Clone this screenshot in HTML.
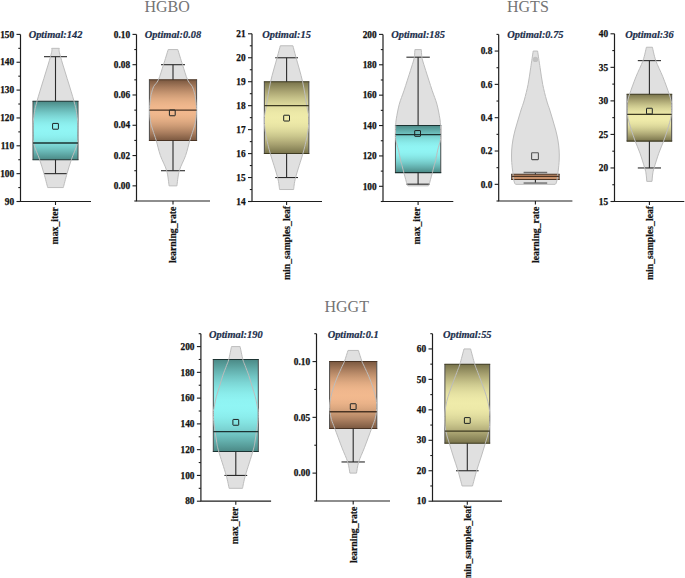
<!DOCTYPE html><html><head><meta charset="utf-8"><style>html,body{margin:0;padding:0;background:#fff;}svg{display:block}.t{font-family:"Liberation Serif",serif;}</style></head><body>
<svg width="685" height="578" viewBox="0 0 685 578">
<defs>
<linearGradient id="g_teal" x1="0" y1="0" x2="0" y2="1"><stop offset="0.0000" stop-color="#4b8986"/><stop offset="0.0625" stop-color="#589e9b"/><stop offset="0.1250" stop-color="#65b2b0"/><stop offset="0.1875" stop-color="#71c5c3"/><stop offset="0.2500" stop-color="#7cd5d4"/><stop offset="0.3125" stop-color="#84e3e1"/><stop offset="0.3750" stop-color="#8bedec"/><stop offset="0.4375" stop-color="#8ff3f2"/><stop offset="0.5000" stop-color="#90f5f4"/><stop offset="0.5625" stop-color="#8ff3f2"/><stop offset="0.6250" stop-color="#8bedec"/><stop offset="0.6875" stop-color="#84e3e1"/><stop offset="0.7500" stop-color="#7cd5d4"/><stop offset="0.8125" stop-color="#71c5c3"/><stop offset="0.8750" stop-color="#65b2b0"/><stop offset="0.9375" stop-color="#589e9b"/><stop offset="1.0000" stop-color="#4b8986"/></linearGradient>
<linearGradient id="g_brown" x1="0" y1="0" x2="0" y2="1"><stop offset="0.0000" stop-color="#7b5840"/><stop offset="0.0625" stop-color="#926b4f"/><stop offset="0.1250" stop-color="#a97d5e"/><stop offset="0.1875" stop-color="#bd8e6b"/><stop offset="0.2500" stop-color="#cf9d77"/><stop offset="0.3125" stop-color="#dea981"/><stop offset="0.3750" stop-color="#e9b288"/><stop offset="0.4375" stop-color="#f0b78d"/><stop offset="0.5000" stop-color="#f2b98e"/><stop offset="0.5625" stop-color="#f0b78d"/><stop offset="0.6250" stop-color="#e9b288"/><stop offset="0.6875" stop-color="#dea981"/><stop offset="0.7500" stop-color="#cf9d77"/><stop offset="0.8125" stop-color="#bd8e6b"/><stop offset="0.8750" stop-color="#a97d5e"/><stop offset="0.9375" stop-color="#926b4f"/><stop offset="1.0000" stop-color="#7b5840"/></linearGradient>
<linearGradient id="g_olive" x1="0" y1="0" x2="0" y2="1"><stop offset="0.0000" stop-color="#78724a"/><stop offset="0.0625" stop-color="#8f8a5d"/><stop offset="0.1250" stop-color="#a6a06f"/><stop offset="0.1875" stop-color="#bab57f"/><stop offset="0.2500" stop-color="#ccc88e"/><stop offset="0.3125" stop-color="#dbd79a"/><stop offset="0.3750" stop-color="#e6e2a3"/><stop offset="0.4375" stop-color="#ede9a8"/><stop offset="0.5000" stop-color="#efebaa"/><stop offset="0.5625" stop-color="#ede9a8"/><stop offset="0.6250" stop-color="#e6e2a3"/><stop offset="0.6875" stop-color="#dbd79a"/><stop offset="0.7500" stop-color="#ccc88e"/><stop offset="0.8125" stop-color="#bab57f"/><stop offset="0.8750" stop-color="#a6a06f"/><stop offset="0.9375" stop-color="#8f8a5d"/><stop offset="1.0000" stop-color="#78724a"/></linearGradient>
</defs>
<rect width="685" height="578" fill="#fff"/>
<g class="t" fill="#747474" font-size="16.0">
<text x="144.5" y="11.9">HGBO</text>
<text x="507.0" y="11.9">HGTS</text>
<text x="324.5" y="311.5">HGGT</text>
</g>
<g><path d="M47.7,187.57 C47.08,185.25 45.33,178.29 44,173.65 C42.67,169.01 41.43,164.83 39.7,159.72 C37.97,154.62 34.72,148.12 33.6,143.02 C32.48,137.91 32.98,133.27 33,129.09 C33.02,124.91 33.03,122.59 33.7,117.95 C34.37,113.31 34.2,111.45 37,101.24 C39.8,91.03 48.05,65.5 50.5,56.68 C52.95,47.86 51.5,49.72 51.7,48.33 L59.3,48.33 C59.5,49.72 58.05,47.86 60.5,56.68 C62.95,65.5 71.2,91.03 74,101.24 C76.8,111.45 76.63,113.31 77.3,117.95 C77.97,122.59 77.98,124.91 78,129.09 C78.02,133.27 78.52,137.91 77.4,143.02 C76.28,148.12 73.03,154.62 71.3,159.72 C69.57,164.83 68.33,169.01 67,173.65 C65.67,178.29 63.92,185.25 63.3,187.57 Z" fill="#e0e0e0" stroke="none"/><rect x="33" y="101.24" width="45" height="58.48" fill="url(#g_teal)"/><path d="M33,101.24 L33,159.72 M78,101.24 L78,159.72" stroke="#4a4a4a" stroke-width="1" fill="none"/><path d="M32.5,101.24 L78.5,101.24 M32.5,159.72 L78.5,159.72" stroke="#1c3332" stroke-width="1.05" fill="none"/><line x1="55.5" y1="56.68" x2="55.5" y2="101.24" stroke="#2a2a2a" stroke-width="1.1"/><line x1="55.5" y1="159.72" x2="55.5" y2="173.65" stroke="#2a2a2a" stroke-width="1.1"/><line x1="44" y1="173.65" x2="67" y2="173.65" stroke="#2a2a2a" stroke-width="1.1"/><line x1="44" y1="56.68" x2="67" y2="56.68" stroke="#2a2a2a" stroke-width="1.1"/><path d="M47.7,187.57 C47.08,185.25 45.33,178.29 44,173.65 C42.67,169.01 41.43,164.83 39.7,159.72 C37.97,154.62 34.72,148.12 33.6,143.02 C32.48,137.91 32.98,133.27 33,129.09 C33.02,124.91 33.03,122.59 33.7,117.95 C34.37,113.31 34.2,111.45 37,101.24 C39.8,91.03 48.05,65.5 50.5,56.68 C52.95,47.86 51.5,49.72 51.7,48.33 L59.3,48.33 C59.5,49.72 58.05,47.86 60.5,56.68 C62.95,65.5 71.2,91.03 74,101.24 C76.8,111.45 76.63,113.31 77.3,117.95 C77.97,122.59 77.98,124.91 78,129.09 C78.02,133.27 78.52,137.91 77.4,143.02 C76.28,148.12 73.03,154.62 71.3,159.72 C69.57,164.83 68.33,169.01 67,173.65 C65.67,178.29 63.92,185.25 63.3,187.57 Z" fill="none" stroke="#bdbdbd" stroke-width="1"/><line x1="33" y1="143.02" x2="78" y2="143.02" stroke="#1c3332" stroke-width="1.3"/><rect x="52.6" y="123.41" width="5.8" height="5.8" rx="0.4" fill="none" stroke="#1e2424" stroke-width="1"/><path d="M20.5,34.4 L20.5,201.5 L91,201.5" fill="none" stroke="#1e1e1e" stroke-width="1.2"/><line x1="55.5" y1="201.5" x2="55.5" y2="205" stroke="#1e1e1e" stroke-width="1.1"/><line x1="16.5" y1="201.5" x2="20.5" y2="201.5" stroke="#1e1e1e" stroke-width="1.1"/><text class="t" x="14.1" y="204.7" font-size="9.3" font-weight="bold" text-anchor="end" fill="#111" stroke="#111" stroke-width="0.25">90</text><line x1="16.5" y1="173.65" x2="20.5" y2="173.65" stroke="#1e1e1e" stroke-width="1.1"/><text class="t" x="14.1" y="176.85" font-size="9.3" font-weight="bold" text-anchor="end" fill="#111" stroke="#111" stroke-width="0.25">100</text><line x1="16.5" y1="145.8" x2="20.5" y2="145.8" stroke="#1e1e1e" stroke-width="1.1"/><text class="t" x="14.1" y="149" font-size="9.3" font-weight="bold" text-anchor="end" fill="#111" stroke="#111" stroke-width="0.25">110</text><line x1="16.5" y1="117.95" x2="20.5" y2="117.95" stroke="#1e1e1e" stroke-width="1.1"/><text class="t" x="14.1" y="121.15" font-size="9.3" font-weight="bold" text-anchor="end" fill="#111" stroke="#111" stroke-width="0.25">120</text><line x1="16.5" y1="90.1" x2="20.5" y2="90.1" stroke="#1e1e1e" stroke-width="1.1"/><text class="t" x="14.1" y="93.3" font-size="9.3" font-weight="bold" text-anchor="end" fill="#111" stroke="#111" stroke-width="0.25">130</text><line x1="16.5" y1="62.25" x2="20.5" y2="62.25" stroke="#1e1e1e" stroke-width="1.1"/><text class="t" x="14.1" y="65.45" font-size="9.3" font-weight="bold" text-anchor="end" fill="#111" stroke="#111" stroke-width="0.25">140</text><line x1="16.5" y1="34.4" x2="20.5" y2="34.4" stroke="#1e1e1e" stroke-width="1.1"/><text class="t" x="14.1" y="37.6" font-size="9.3" font-weight="bold" text-anchor="end" fill="#111" stroke="#111" stroke-width="0.25">150</text><line x1="18.3" y1="187.57" x2="20.5" y2="187.57" stroke="#1e1e1e" stroke-width="1.1"/><line x1="18.3" y1="159.72" x2="20.5" y2="159.72" stroke="#1e1e1e" stroke-width="1.1"/><line x1="18.3" y1="131.88" x2="20.5" y2="131.88" stroke="#1e1e1e" stroke-width="1.1"/><line x1="18.3" y1="104.02" x2="20.5" y2="104.02" stroke="#1e1e1e" stroke-width="1.1"/><line x1="18.3" y1="76.18" x2="20.5" y2="76.18" stroke="#1e1e1e" stroke-width="1.1"/><line x1="18.3" y1="48.33" x2="20.5" y2="48.33" stroke="#1e1e1e" stroke-width="1.1"/><text class="t" transform="translate(55.5,38.25) scale(1,1.08)" font-size="10.4" font-weight="bold" font-style="italic" text-anchor="middle" fill="#1b2e4b" stroke="#1b2e4b" stroke-width="0.2">Optimal:142</text><text class="t" transform="translate(57.7,207.1) rotate(-90)" font-size="9.75" font-weight="bold" text-anchor="end" fill="#111" stroke="#111" stroke-width="0.2">max_iter</text></g>
<g><path d="M169.1,185.85 C168.7,183.33 168.15,175.76 166.7,170.71 C165.25,165.66 162.15,160.61 160.4,155.56 C158.65,150.52 157.47,144.66 156.2,140.42 C154.93,136.18 153.77,133.3 152.8,130.12 C151.83,126.94 150.95,124.67 150.4,121.33 C149.85,118 149.5,113.84 149.5,110.13 C149.5,106.42 150.05,101.95 150.4,99.07 C150.75,96.19 151.05,94.96 151.6,92.86 C152.15,90.77 152.57,88.67 153.7,86.5 C154.83,84.33 156.77,83.47 158.4,79.84 C160.03,76.2 161.87,69.74 163.5,64.69 C165.13,59.64 167.42,52.07 168.2,49.55 L177.8,49.55 C178.58,52.07 180.87,59.64 182.5,64.69 C184.13,69.74 185.97,76.2 187.6,79.84 C189.23,83.47 191.17,84.33 192.3,86.5 C193.43,88.67 193.85,90.77 194.4,92.86 C194.95,94.96 195.25,96.19 195.6,99.07 C195.95,101.95 196.5,106.42 196.5,110.13 C196.5,113.84 196.15,118 195.6,121.33 C195.05,124.67 194.17,126.94 193.2,130.12 C192.23,133.3 191.07,136.18 189.8,140.42 C188.53,144.66 187.35,150.52 185.6,155.56 C183.85,160.61 180.75,165.66 179.3,170.71 C177.85,175.76 177.3,183.33 176.9,185.85 Z" fill="#e0e0e0" stroke="none"/><rect x="149.4" y="79.84" width="47.2" height="60.58" fill="url(#g_brown)"/><path d="M149.4,79.84 L149.4,140.42 M196.6,79.84 L196.6,140.42" stroke="#4a4a4a" stroke-width="1" fill="none"/><path d="M148.9,79.84 L197.1,79.84 M148.9,140.42 L197.1,140.42" stroke="#4a3424" stroke-width="1.05" fill="none"/><line x1="173" y1="64.69" x2="173" y2="79.84" stroke="#2a2a2a" stroke-width="1.1"/><line x1="173" y1="140.42" x2="173" y2="170.71" stroke="#2a2a2a" stroke-width="1.1"/><line x1="161" y1="170.71" x2="185" y2="170.71" stroke="#2a2a2a" stroke-width="1.1"/><line x1="161" y1="64.69" x2="185" y2="64.69" stroke="#2a2a2a" stroke-width="1.1"/><path d="M169.1,185.85 C168.7,183.33 168.15,175.76 166.7,170.71 C165.25,165.66 162.15,160.61 160.4,155.56 C158.65,150.52 157.47,144.66 156.2,140.42 C154.93,136.18 153.77,133.3 152.8,130.12 C151.83,126.94 150.95,124.67 150.4,121.33 C149.85,118 149.5,113.84 149.5,110.13 C149.5,106.42 150.05,101.95 150.4,99.07 C150.75,96.19 151.05,94.96 151.6,92.86 C152.15,90.77 152.57,88.67 153.7,86.5 C154.83,84.33 156.77,83.47 158.4,79.84 C160.03,76.2 161.87,69.74 163.5,64.69 C165.13,59.64 167.42,52.07 168.2,49.55 L177.8,49.55 C178.58,52.07 180.87,59.64 182.5,64.69 C184.13,69.74 185.97,76.2 187.6,79.84 C189.23,83.47 191.17,84.33 192.3,86.5 C193.43,88.67 193.85,90.77 194.4,92.86 C194.95,94.96 195.25,96.19 195.6,99.07 C195.95,101.95 196.5,106.42 196.5,110.13 C196.5,113.84 196.15,118 195.6,121.33 C195.05,124.67 194.17,126.94 193.2,130.12 C192.23,133.3 191.07,136.18 189.8,140.42 C188.53,144.66 187.35,150.52 185.6,155.56 C183.85,160.61 180.75,165.66 179.3,170.71 C177.85,175.76 177.3,183.33 176.9,185.85 Z" fill="none" stroke="#bdbdbd" stroke-width="1"/><line x1="149.4" y1="110.13" x2="196.6" y2="110.13" stroke="#4a3424" stroke-width="1.3"/><rect x="169.4" y="109.95" width="5.8" height="5.8" rx="0.4" fill="none" stroke="#1e2424" stroke-width="1"/><path d="M136.5,34.4 L136.5,201 L210,201" fill="none" stroke="#1e1e1e" stroke-width="1.2"/><line x1="173" y1="201" x2="173" y2="204.5" stroke="#1e1e1e" stroke-width="1.1"/><line x1="132.5" y1="185.85" x2="136.5" y2="185.85" stroke="#1e1e1e" stroke-width="1.1"/><text class="t" x="130.1" y="189.05" font-size="9.3" font-weight="bold" text-anchor="end" fill="#111" stroke="#111" stroke-width="0.25">0.00</text><line x1="132.5" y1="155.56" x2="136.5" y2="155.56" stroke="#1e1e1e" stroke-width="1.1"/><text class="t" x="130.1" y="158.76" font-size="9.3" font-weight="bold" text-anchor="end" fill="#111" stroke="#111" stroke-width="0.25">0.02</text><line x1="132.5" y1="125.27" x2="136.5" y2="125.27" stroke="#1e1e1e" stroke-width="1.1"/><text class="t" x="130.1" y="128.47" font-size="9.3" font-weight="bold" text-anchor="end" fill="#111" stroke="#111" stroke-width="0.25">0.04</text><line x1="132.5" y1="94.98" x2="136.5" y2="94.98" stroke="#1e1e1e" stroke-width="1.1"/><text class="t" x="130.1" y="98.18" font-size="9.3" font-weight="bold" text-anchor="end" fill="#111" stroke="#111" stroke-width="0.25">0.06</text><line x1="132.5" y1="64.69" x2="136.5" y2="64.69" stroke="#1e1e1e" stroke-width="1.1"/><text class="t" x="130.1" y="67.89" font-size="9.3" font-weight="bold" text-anchor="end" fill="#111" stroke="#111" stroke-width="0.25">0.08</text><line x1="132.5" y1="34.4" x2="136.5" y2="34.4" stroke="#1e1e1e" stroke-width="1.1"/><text class="t" x="130.1" y="37.6" font-size="9.3" font-weight="bold" text-anchor="end" fill="#111" stroke="#111" stroke-width="0.25">0.10</text><line x1="134.3" y1="201" x2="136.5" y2="201" stroke="#1e1e1e" stroke-width="1.1"/><line x1="134.3" y1="170.71" x2="136.5" y2="170.71" stroke="#1e1e1e" stroke-width="1.1"/><line x1="134.3" y1="140.42" x2="136.5" y2="140.42" stroke="#1e1e1e" stroke-width="1.1"/><line x1="134.3" y1="110.13" x2="136.5" y2="110.13" stroke="#1e1e1e" stroke-width="1.1"/><line x1="134.3" y1="79.84" x2="136.5" y2="79.84" stroke="#1e1e1e" stroke-width="1.1"/><line x1="134.3" y1="49.55" x2="136.5" y2="49.55" stroke="#1e1e1e" stroke-width="1.1"/><text class="t" transform="translate(173,38.25) scale(1,1.08)" font-size="10.4" font-weight="bold" font-style="italic" text-anchor="middle" fill="#1b2e4b" stroke="#1b2e4b" stroke-width="0.2">Optimal:0.08</text><text class="t" transform="translate(176.4,206.6) rotate(-90)" font-size="9.75" font-weight="bold" text-anchor="end" fill="#111" stroke="#111" stroke-width="0.2">learning_rate</text></g>
<g><path d="M279.6,189.52 C279.27,187.53 279.15,183.53 277.6,177.54 C276.05,171.55 272.02,159.57 270.3,153.59 C268.58,147.6 268.18,145.6 267.3,141.61 C266.42,137.61 265.49,133.62 265,129.63 C264.51,125.64 264.12,121.64 264.35,117.65 C264.58,113.66 265.36,111.66 266.4,105.67 C267.44,99.68 268.82,89.7 270.6,81.71 C272.38,73.73 275.48,63.75 277.1,57.76 C278.72,51.77 279.77,47.78 280.3,45.78 L292.9,45.78 C293.43,47.78 294.48,51.77 296.1,57.76 C297.72,63.75 300.82,73.73 302.6,81.71 C304.38,89.7 305.76,99.68 306.8,105.67 C307.84,111.66 308.62,113.66 308.85,117.65 C309.08,121.64 308.69,125.64 308.2,129.63 C307.71,133.62 306.78,137.61 305.9,141.61 C305.02,145.6 304.62,147.6 302.9,153.59 C301.18,159.57 297.15,171.55 295.6,177.54 C294.05,183.53 293.93,187.53 293.6,189.52 Z" fill="#e0e0e0" stroke="none"/><rect x="264.35" y="81.71" width="44.5" height="71.87" fill="url(#g_olive)"/><path d="M264.35,81.71 L264.35,153.59 M308.85,81.71 L308.85,153.59" stroke="#4a4a4a" stroke-width="1" fill="none"/><path d="M263.85,81.71 L309.35,81.71 M263.85,153.59 L309.35,153.59" stroke="#3e3b22" stroke-width="1.05" fill="none"/><line x1="286.6" y1="57.76" x2="286.6" y2="81.71" stroke="#2a2a2a" stroke-width="1.1"/><line x1="286.6" y1="153.59" x2="286.6" y2="177.54" stroke="#2a2a2a" stroke-width="1.1"/><line x1="275.2" y1="177.54" x2="298" y2="177.54" stroke="#2a2a2a" stroke-width="1.1"/><line x1="275.2" y1="57.76" x2="298" y2="57.76" stroke="#2a2a2a" stroke-width="1.1"/><path d="M279.6,189.52 C279.27,187.53 279.15,183.53 277.6,177.54 C276.05,171.55 272.02,159.57 270.3,153.59 C268.58,147.6 268.18,145.6 267.3,141.61 C266.42,137.61 265.49,133.62 265,129.63 C264.51,125.64 264.12,121.64 264.35,117.65 C264.58,113.66 265.36,111.66 266.4,105.67 C267.44,99.68 268.82,89.7 270.6,81.71 C272.38,73.73 275.48,63.75 277.1,57.76 C278.72,51.77 279.77,47.78 280.3,45.78 L292.9,45.78 C293.43,47.78 294.48,51.77 296.1,57.76 C297.72,63.75 300.82,73.73 302.6,81.71 C304.38,89.7 305.76,99.68 306.8,105.67 C307.84,111.66 308.62,113.66 308.85,117.65 C309.08,121.64 308.69,125.64 308.2,129.63 C307.71,133.62 306.78,137.61 305.9,141.61 C305.02,145.6 304.62,147.6 302.9,153.59 C301.18,159.57 297.15,171.55 295.6,177.54 C294.05,183.53 293.93,187.53 293.6,189.52 Z" fill="none" stroke="#bdbdbd" stroke-width="1"/><line x1="264.35" y1="105.67" x2="308.85" y2="105.67" stroke="#3e3b22" stroke-width="1.3"/><rect x="283.7" y="115.23" width="5.8" height="5.8" rx="0.4" fill="none" stroke="#1e2424" stroke-width="1"/><path d="M252,33.8 L252,201.5 L322,201.5" fill="none" stroke="#1e1e1e" stroke-width="1.2"/><line x1="286.6" y1="201.5" x2="286.6" y2="205" stroke="#1e1e1e" stroke-width="1.1"/><line x1="248" y1="201.5" x2="252" y2="201.5" stroke="#1e1e1e" stroke-width="1.1"/><text class="t" x="245.6" y="204.7" font-size="9.3" font-weight="bold" text-anchor="end" fill="#111" stroke="#111" stroke-width="0.25">14</text><line x1="248" y1="177.54" x2="252" y2="177.54" stroke="#1e1e1e" stroke-width="1.1"/><text class="t" x="245.6" y="180.74" font-size="9.3" font-weight="bold" text-anchor="end" fill="#111" stroke="#111" stroke-width="0.25">15</text><line x1="248" y1="153.59" x2="252" y2="153.59" stroke="#1e1e1e" stroke-width="1.1"/><text class="t" x="245.6" y="156.79" font-size="9.3" font-weight="bold" text-anchor="end" fill="#111" stroke="#111" stroke-width="0.25">16</text><line x1="248" y1="129.63" x2="252" y2="129.63" stroke="#1e1e1e" stroke-width="1.1"/><text class="t" x="245.6" y="132.83" font-size="9.3" font-weight="bold" text-anchor="end" fill="#111" stroke="#111" stroke-width="0.25">17</text><line x1="248" y1="105.67" x2="252" y2="105.67" stroke="#1e1e1e" stroke-width="1.1"/><text class="t" x="245.6" y="108.87" font-size="9.3" font-weight="bold" text-anchor="end" fill="#111" stroke="#111" stroke-width="0.25">18</text><line x1="248" y1="81.71" x2="252" y2="81.71" stroke="#1e1e1e" stroke-width="1.1"/><text class="t" x="245.6" y="84.91" font-size="9.3" font-weight="bold" text-anchor="end" fill="#111" stroke="#111" stroke-width="0.25">19</text><line x1="248" y1="57.76" x2="252" y2="57.76" stroke="#1e1e1e" stroke-width="1.1"/><text class="t" x="245.6" y="60.96" font-size="9.3" font-weight="bold" text-anchor="end" fill="#111" stroke="#111" stroke-width="0.25">20</text><line x1="248" y1="33.8" x2="252" y2="33.8" stroke="#1e1e1e" stroke-width="1.1"/><text class="t" x="245.6" y="37" font-size="9.3" font-weight="bold" text-anchor="end" fill="#111" stroke="#111" stroke-width="0.25">21</text><line x1="249.8" y1="189.52" x2="252" y2="189.52" stroke="#1e1e1e" stroke-width="1.1"/><line x1="249.8" y1="165.56" x2="252" y2="165.56" stroke="#1e1e1e" stroke-width="1.1"/><line x1="249.8" y1="141.61" x2="252" y2="141.61" stroke="#1e1e1e" stroke-width="1.1"/><line x1="249.8" y1="117.65" x2="252" y2="117.65" stroke="#1e1e1e" stroke-width="1.1"/><line x1="249.8" y1="93.69" x2="252" y2="93.69" stroke="#1e1e1e" stroke-width="1.1"/><line x1="249.8" y1="69.74" x2="252" y2="69.74" stroke="#1e1e1e" stroke-width="1.1"/><line x1="249.8" y1="45.78" x2="252" y2="45.78" stroke="#1e1e1e" stroke-width="1.1"/><text class="t" transform="translate(286.6,37.65) scale(1,1.08)" font-size="10.4" font-weight="bold" font-style="italic" text-anchor="middle" fill="#1b2e4b" stroke="#1b2e4b" stroke-width="0.2">Optimal:15</text><text class="t" transform="translate(290.2,205.9) rotate(-90)" font-size="9.75" font-weight="bold" text-anchor="end" fill="#111" stroke="#111" stroke-width="0.2">min_samples_leaf</text></g>
<g><path d="M408.1,185.85 C407.93,185.68 407.5,185.85 407.1,184.79 C406.7,183.73 406.25,181.5 405.7,179.47 C405.15,177.45 404.4,174.92 403.8,172.64 C403.2,170.36 402.65,167.88 402.1,165.8 C401.55,163.73 401.1,162.79 400.5,160.18 C399.9,157.57 399.28,153.5 398.5,150.15 C397.72,146.81 396.3,142.96 395.8,140.13 C395.3,137.29 395.52,135.57 395.5,133.14 C395.48,130.71 395.57,127.93 395.7,125.55 C395.83,123.17 395.7,122.43 396.3,118.86 C396.9,115.29 398,108.89 399.3,104.13 C400.6,99.37 402.23,95.92 404.1,90.3 C405.97,84.68 408.9,75.44 410.5,70.4 C412.1,65.36 413.03,62.53 413.7,60.07 C414.37,57.62 414.3,57.41 414.5,55.67 C414.7,53.92 414.83,50.6 414.9,49.59 L421.3,49.59 C421.37,50.6 421.5,53.92 421.7,55.67 C421.9,57.41 421.83,57.62 422.5,60.07 C423.17,62.53 424.1,65.36 425.7,70.4 C427.3,75.44 430.23,84.68 432.1,90.3 C433.97,95.92 435.6,99.37 436.9,104.13 C438.2,108.89 439.3,115.29 439.9,118.86 C440.5,122.43 440.37,123.17 440.5,125.55 C440.63,127.93 440.72,130.71 440.7,133.14 C440.68,135.57 440.9,137.29 440.4,140.13 C439.9,142.96 438.48,146.81 437.7,150.15 C436.92,153.5 436.3,157.57 435.7,160.18 C435.1,162.79 434.65,163.73 434.1,165.8 C433.55,167.88 433,170.36 432.4,172.64 C431.8,174.92 431.05,177.45 430.5,179.47 C429.95,181.5 429.5,183.73 429.1,184.79 C428.7,185.85 428.27,185.68 428.1,185.85 Z" fill="#e0e0e0" stroke="none"/><rect x="395.45" y="125.55" width="45.3" height="47.09" fill="url(#g_teal)"/><path d="M395.45,125.55 L395.45,172.64 M440.75,125.55 L440.75,172.64" stroke="#4a4a4a" stroke-width="1" fill="none"/><path d="M394.95,125.55 L441.25,125.55 M394.95,172.64 L441.25,172.64" stroke="#1c3332" stroke-width="1.05" fill="none"/><line x1="418.1" y1="57.19" x2="418.1" y2="125.55" stroke="#2a2a2a" stroke-width="1.1"/><line x1="418.1" y1="172.64" x2="418.1" y2="184.18" stroke="#2a2a2a" stroke-width="1.1"/><line x1="406.4" y1="184.18" x2="429.8" y2="184.18" stroke="#2a2a2a" stroke-width="1.1"/><line x1="406.4" y1="57.19" x2="429.8" y2="57.19" stroke="#2a2a2a" stroke-width="1.1"/><path d="M408.1,185.85 C407.93,185.68 407.5,185.85 407.1,184.79 C406.7,183.73 406.25,181.5 405.7,179.47 C405.15,177.45 404.4,174.92 403.8,172.64 C403.2,170.36 402.65,167.88 402.1,165.8 C401.55,163.73 401.1,162.79 400.5,160.18 C399.9,157.57 399.28,153.5 398.5,150.15 C397.72,146.81 396.3,142.96 395.8,140.13 C395.3,137.29 395.52,135.57 395.5,133.14 C395.48,130.71 395.57,127.93 395.7,125.55 C395.83,123.17 395.7,122.43 396.3,118.86 C396.9,115.29 398,108.89 399.3,104.13 C400.6,99.37 402.23,95.92 404.1,90.3 C405.97,84.68 408.9,75.44 410.5,70.4 C412.1,65.36 413.03,62.53 413.7,60.07 C414.37,57.62 414.3,57.41 414.5,55.67 C414.7,53.92 414.83,50.6 414.9,49.59 L421.3,49.59 C421.37,50.6 421.5,53.92 421.7,55.67 C421.9,57.41 421.83,57.62 422.5,60.07 C423.17,62.53 424.1,65.36 425.7,70.4 C427.3,75.44 430.23,84.68 432.1,90.3 C433.97,95.92 435.6,99.37 436.9,104.13 C438.2,108.89 439.3,115.29 439.9,118.86 C440.5,122.43 440.37,123.17 440.5,125.55 C440.63,127.93 440.72,130.71 440.7,133.14 C440.68,135.57 440.9,137.29 440.4,140.13 C439.9,142.96 438.48,146.81 437.7,150.15 C436.92,153.5 436.3,157.57 435.7,160.18 C435.1,162.79 434.65,163.73 434.1,165.8 C433.55,167.88 433,170.36 432.4,172.64 C431.8,174.92 431.05,177.45 430.5,179.47 C429.95,181.5 429.5,183.73 429.1,184.79 C428.7,185.85 428.27,185.68 428.1,185.85 Z" fill="none" stroke="#bdbdbd" stroke-width="1"/><line x1="395.45" y1="134.66" x2="440.75" y2="134.66" stroke="#1c3332" stroke-width="1.3"/><rect x="414.7" y="130.54" width="5.8" height="5.8" rx="0.4" fill="none" stroke="#1e2424" stroke-width="1"/><path d="M383,34.4 L383,201.5 L453.3,201.5" fill="none" stroke="#1e1e1e" stroke-width="1.2"/><line x1="418.1" y1="201.5" x2="418.1" y2="205" stroke="#1e1e1e" stroke-width="1.1"/><line x1="379" y1="186.31" x2="383" y2="186.31" stroke="#1e1e1e" stroke-width="1.1"/><text class="t" x="376.6" y="189.51" font-size="9.3" font-weight="bold" text-anchor="end" fill="#111" stroke="#111" stroke-width="0.25">100</text><line x1="379" y1="155.93" x2="383" y2="155.93" stroke="#1e1e1e" stroke-width="1.1"/><text class="t" x="376.6" y="159.13" font-size="9.3" font-weight="bold" text-anchor="end" fill="#111" stroke="#111" stroke-width="0.25">120</text><line x1="379" y1="125.55" x2="383" y2="125.55" stroke="#1e1e1e" stroke-width="1.1"/><text class="t" x="376.6" y="128.75" font-size="9.3" font-weight="bold" text-anchor="end" fill="#111" stroke="#111" stroke-width="0.25">140</text><line x1="379" y1="95.16" x2="383" y2="95.16" stroke="#1e1e1e" stroke-width="1.1"/><text class="t" x="376.6" y="98.36" font-size="9.3" font-weight="bold" text-anchor="end" fill="#111" stroke="#111" stroke-width="0.25">160</text><line x1="379" y1="64.78" x2="383" y2="64.78" stroke="#1e1e1e" stroke-width="1.1"/><text class="t" x="376.6" y="67.98" font-size="9.3" font-weight="bold" text-anchor="end" fill="#111" stroke="#111" stroke-width="0.25">180</text><line x1="379" y1="34.4" x2="383" y2="34.4" stroke="#1e1e1e" stroke-width="1.1"/><text class="t" x="376.6" y="37.6" font-size="9.3" font-weight="bold" text-anchor="end" fill="#111" stroke="#111" stroke-width="0.25">200</text><line x1="380.8" y1="201.5" x2="383" y2="201.5" stroke="#1e1e1e" stroke-width="1.1"/><line x1="380.8" y1="171.12" x2="383" y2="171.12" stroke="#1e1e1e" stroke-width="1.1"/><line x1="380.8" y1="140.74" x2="383" y2="140.74" stroke="#1e1e1e" stroke-width="1.1"/><line x1="380.8" y1="110.35" x2="383" y2="110.35" stroke="#1e1e1e" stroke-width="1.1"/><line x1="380.8" y1="79.97" x2="383" y2="79.97" stroke="#1e1e1e" stroke-width="1.1"/><line x1="380.8" y1="49.59" x2="383" y2="49.59" stroke="#1e1e1e" stroke-width="1.1"/><text class="t" transform="translate(418.1,38.25) scale(1,1.08)" font-size="10.4" font-weight="bold" font-style="italic" text-anchor="middle" fill="#1b2e4b" stroke="#1b2e4b" stroke-width="0.2">Optimal:185</text><text class="t" transform="translate(420.3,207.1) rotate(-90)" font-size="9.75" font-weight="bold" text-anchor="end" fill="#111" stroke="#111" stroke-width="0.2">max_iter</text></g>
<g><path d="M515.8,184.34 C515.63,184.2 515.13,184.23 514.8,183.51 C514.47,182.79 514.1,181.59 513.8,180.01 C513.5,178.43 513.22,175.68 513,174.01 C512.78,172.34 512.73,172.34 512.5,170.01 C512.27,167.68 511.73,163.35 511.6,160.02 C511.47,156.68 511.48,153.35 511.7,150.02 C511.92,146.69 512.33,143.36 512.9,140.02 C513.47,136.69 514.25,133.36 515.1,130.03 C515.95,126.7 517.02,123.36 518,120.03 C518.98,116.7 519.95,113.37 521,110.04 C522.05,106.7 523.12,104.32 524.3,100.04 C525.48,95.76 527.03,89.77 528.1,84.38 C529.17,78.99 529.85,73.27 530.7,67.72 C531.55,62.17 532.78,53.84 533.2,51.06 L537.6,51.06 C538.02,53.84 539.25,62.17 540.1,67.72 C540.95,73.27 541.63,78.99 542.7,84.38 C543.77,89.77 545.32,95.76 546.5,100.04 C547.68,104.32 548.75,106.7 549.8,110.04 C550.85,113.37 551.82,116.7 552.8,120.03 C553.78,123.36 554.85,126.7 555.7,130.03 C556.55,133.36 557.33,136.69 557.9,140.02 C558.47,143.36 558.88,146.69 559.1,150.02 C559.32,153.35 559.33,156.68 559.2,160.02 C559.07,163.35 558.53,167.68 558.3,170.01 C558.07,172.34 558.02,172.34 557.8,174.01 C557.58,175.68 557.3,178.43 557,180.01 C556.7,181.59 556.33,182.79 556,183.51 C555.67,184.23 555.17,184.2 555,184.34 Z" fill="#e0e0e0" stroke="none"/><rect x="511.6" y="174.18" width="47.6" height="5.41" fill="#c8916b"/><path d="M511.6,174.18 L511.6,179.59 M559.2,174.18 L559.2,179.59" stroke="#4a4a4a" stroke-width="1" fill="none"/><path d="M511.1,174.18 L559.7,174.18 M511.1,179.59 L559.7,179.59" stroke="#4a3424" stroke-width="1.05" fill="none"/><line x1="535.4" y1="172.51" x2="535.4" y2="174.18" stroke="#2a2a2a" stroke-width="1.1"/><line x1="535.4" y1="179.59" x2="535.4" y2="183.09" stroke="#2a2a2a" stroke-width="1.1"/><line x1="523.6" y1="183.09" x2="547.2" y2="183.09" stroke="#6e6e6e" stroke-width="1.5"/><line x1="523.6" y1="172.51" x2="547.2" y2="172.51" stroke="#6e6e6e" stroke-width="1.5"/><path d="M515.8,184.34 C515.63,184.2 515.13,184.23 514.8,183.51 C514.47,182.79 514.1,181.59 513.8,180.01 C513.5,178.43 513.22,175.68 513,174.01 C512.78,172.34 512.73,172.34 512.5,170.01 C512.27,167.68 511.73,163.35 511.6,160.02 C511.47,156.68 511.48,153.35 511.7,150.02 C511.92,146.69 512.33,143.36 512.9,140.02 C513.47,136.69 514.25,133.36 515.1,130.03 C515.95,126.7 517.02,123.36 518,120.03 C518.98,116.7 519.95,113.37 521,110.04 C522.05,106.7 523.12,104.32 524.3,100.04 C525.48,95.76 527.03,89.77 528.1,84.38 C529.17,78.99 529.85,73.27 530.7,67.72 C531.55,62.17 532.78,53.84 533.2,51.06 L537.6,51.06 C538.02,53.84 539.25,62.17 540.1,67.72 C540.95,73.27 541.63,78.99 542.7,84.38 C543.77,89.77 545.32,95.76 546.5,100.04 C547.68,104.32 548.75,106.7 549.8,110.04 C550.85,113.37 551.82,116.7 552.8,120.03 C553.78,123.36 554.85,126.7 555.7,130.03 C556.55,133.36 557.33,136.69 557.9,140.02 C558.47,143.36 558.88,146.69 559.1,150.02 C559.32,153.35 559.33,156.68 559.2,160.02 C559.07,163.35 558.53,167.68 558.3,170.01 C558.07,172.34 558.02,172.34 557.8,174.01 C557.58,175.68 557.3,178.43 557,180.01 C556.7,181.59 556.33,182.79 556,183.51 C555.67,184.23 555.17,184.2 555,184.34 Z" fill="none" stroke="#bdbdbd" stroke-width="1"/><line x1="511.6" y1="176.34" x2="559.2" y2="176.34" stroke="#4a3424" stroke-width="1.3"/><rect x="531.6" y="152.78" width="6.8" height="6.8" rx="0.6" fill="none" stroke="#555" stroke-width="1.1"/><circle cx="535.4" cy="59.4" r="2.7" fill="#c2c2c2"/><path d="M498.7,34.4 L498.7,201 L572.4,201" fill="none" stroke="#1e1e1e" stroke-width="1.2"/><line x1="535.4" y1="201" x2="535.4" y2="204.5" stroke="#1e1e1e" stroke-width="1.1"/><line x1="494.7" y1="184.34" x2="498.7" y2="184.34" stroke="#1e1e1e" stroke-width="1.1"/><text class="t" x="492.3" y="187.54" font-size="9.3" font-weight="bold" text-anchor="end" fill="#111" stroke="#111" stroke-width="0.25">0.0</text><line x1="494.7" y1="151.02" x2="498.7" y2="151.02" stroke="#1e1e1e" stroke-width="1.1"/><text class="t" x="492.3" y="154.22" font-size="9.3" font-weight="bold" text-anchor="end" fill="#111" stroke="#111" stroke-width="0.25">0.2</text><line x1="494.7" y1="117.7" x2="498.7" y2="117.7" stroke="#1e1e1e" stroke-width="1.1"/><text class="t" x="492.3" y="120.9" font-size="9.3" font-weight="bold" text-anchor="end" fill="#111" stroke="#111" stroke-width="0.25">0.4</text><line x1="494.7" y1="84.38" x2="498.7" y2="84.38" stroke="#1e1e1e" stroke-width="1.1"/><text class="t" x="492.3" y="87.58" font-size="9.3" font-weight="bold" text-anchor="end" fill="#111" stroke="#111" stroke-width="0.25">0.6</text><line x1="494.7" y1="51.06" x2="498.7" y2="51.06" stroke="#1e1e1e" stroke-width="1.1"/><text class="t" x="492.3" y="54.26" font-size="9.3" font-weight="bold" text-anchor="end" fill="#111" stroke="#111" stroke-width="0.25">0.8</text><line x1="496.5" y1="201" x2="498.7" y2="201" stroke="#1e1e1e" stroke-width="1.1"/><line x1="496.5" y1="167.68" x2="498.7" y2="167.68" stroke="#1e1e1e" stroke-width="1.1"/><line x1="496.5" y1="134.36" x2="498.7" y2="134.36" stroke="#1e1e1e" stroke-width="1.1"/><line x1="496.5" y1="101.04" x2="498.7" y2="101.04" stroke="#1e1e1e" stroke-width="1.1"/><line x1="496.5" y1="67.72" x2="498.7" y2="67.72" stroke="#1e1e1e" stroke-width="1.1"/><line x1="496.5" y1="34.4" x2="498.7" y2="34.4" stroke="#1e1e1e" stroke-width="1.1"/><text class="t" transform="translate(535.4,38.25) scale(1,1.08)" font-size="10.4" font-weight="bold" font-style="italic" text-anchor="middle" fill="#1b2e4b" stroke="#1b2e4b" stroke-width="0.2">Optimal:0.75</text><text class="t" transform="translate(538.8,206.6) rotate(-90)" font-size="9.75" font-weight="bold" text-anchor="end" fill="#111" stroke="#111" stroke-width="0.2">learning_rate</text></g>
<g><path d="M646.8,181.38 C646.68,180.15 646.45,176.23 646.1,174 C645.75,171.76 645.72,171.43 644.7,167.96 C643.68,164.49 641.58,157.67 640,153.2 C638.42,148.73 636.58,144.82 635.2,141.13 C633.82,137.44 632.72,134.2 631.7,131.07 C630.68,127.94 629.82,125.14 629.1,122.35 C628.38,119.55 627.73,117.2 627.4,114.3 C627.07,111.39 627.1,106.92 627.1,104.9 C627.1,102.89 626.98,104.01 627.4,102.22 C627.82,100.43 628.17,98.42 629.6,94.17 C631.03,89.92 633.77,82.32 636,76.73 C638.23,71.14 641.27,65.55 643,60.63 C644.73,55.71 645.83,49.45 646.4,47.22 L652.4,47.22 C652.97,49.45 654.07,55.71 655.8,60.63 C657.53,65.55 660.57,71.14 662.8,76.73 C665.03,82.32 667.77,89.92 669.2,94.17 C670.63,98.42 670.98,100.43 671.4,102.22 C671.82,104.01 671.7,102.89 671.7,104.9 C671.7,106.92 671.73,111.39 671.4,114.3 C671.07,117.2 670.42,119.55 669.7,122.35 C668.98,125.14 668.12,127.94 667.1,131.07 C666.08,134.2 664.98,137.44 663.6,141.13 C662.22,144.82 660.38,148.73 658.8,153.2 C657.22,157.67 655.12,164.49 654.1,167.96 C653.08,171.43 653.05,171.76 652.7,174 C652.35,176.23 652.12,180.15 652,181.38 Z" fill="#e0e0e0" stroke="none"/><rect x="627.1" y="94.17" width="44.6" height="46.96" fill="url(#g_olive)"/><path d="M627.1,94.17 L627.1,141.13 M671.7,94.17 L671.7,141.13" stroke="#4a4a4a" stroke-width="1" fill="none"/><path d="M626.6,94.17 L672.2,94.17 M626.6,141.13 L672.2,141.13" stroke="#3e3b22" stroke-width="1.05" fill="none"/><line x1="649.4" y1="60.63" x2="649.4" y2="94.17" stroke="#2a2a2a" stroke-width="1.1"/><line x1="649.4" y1="141.13" x2="649.4" y2="167.96" stroke="#2a2a2a" stroke-width="1.1"/><line x1="637.8" y1="167.96" x2="661" y2="167.96" stroke="#2a2a2a" stroke-width="1.1"/><line x1="637.8" y1="60.63" x2="661" y2="60.63" stroke="#2a2a2a" stroke-width="1.1"/><path d="M646.8,181.38 C646.68,180.15 646.45,176.23 646.1,174 C645.75,171.76 645.72,171.43 644.7,167.96 C643.68,164.49 641.58,157.67 640,153.2 C638.42,148.73 636.58,144.82 635.2,141.13 C633.82,137.44 632.72,134.2 631.7,131.07 C630.68,127.94 629.82,125.14 629.1,122.35 C628.38,119.55 627.73,117.2 627.4,114.3 C627.07,111.39 627.1,106.92 627.1,104.9 C627.1,102.89 626.98,104.01 627.4,102.22 C627.82,100.43 628.17,98.42 629.6,94.17 C631.03,89.92 633.77,82.32 636,76.73 C638.23,71.14 641.27,65.55 643,60.63 C644.73,55.71 645.83,49.45 646.4,47.22 L652.4,47.22 C652.97,49.45 654.07,55.71 655.8,60.63 C657.53,65.55 660.57,71.14 662.8,76.73 C665.03,82.32 667.77,89.92 669.2,94.17 C670.63,98.42 670.98,100.43 671.4,102.22 C671.82,104.01 671.7,102.89 671.7,104.9 C671.7,106.92 671.73,111.39 671.4,114.3 C671.07,117.2 670.42,119.55 669.7,122.35 C668.98,125.14 668.12,127.94 667.1,131.07 C666.08,134.2 664.98,137.44 663.6,141.13 C662.22,144.82 660.38,148.73 658.8,153.2 C657.22,157.67 655.12,164.49 654.1,167.96 C653.08,171.43 653.05,171.76 652.7,174 C652.35,176.23 652.12,180.15 652,181.38 Z" fill="none" stroke="#bdbdbd" stroke-width="1"/><line x1="627.1" y1="114.3" x2="671.7" y2="114.3" stroke="#3e3b22" stroke-width="1.3"/><rect x="646.5" y="108.24" width="5.8" height="5.8" rx="0.4" fill="none" stroke="#1e2424" stroke-width="1"/><path d="M614.5,33.8 L614.5,201.5 L684.3,201.5" fill="none" stroke="#1e1e1e" stroke-width="1.2"/><line x1="649.4" y1="201.5" x2="649.4" y2="205" stroke="#1e1e1e" stroke-width="1.1"/><line x1="610.5" y1="201.5" x2="614.5" y2="201.5" stroke="#1e1e1e" stroke-width="1.1"/><text class="t" x="608.1" y="204.7" font-size="9.3" font-weight="bold" text-anchor="end" fill="#111" stroke="#111" stroke-width="0.25">15</text><line x1="610.5" y1="167.96" x2="614.5" y2="167.96" stroke="#1e1e1e" stroke-width="1.1"/><text class="t" x="608.1" y="171.16" font-size="9.3" font-weight="bold" text-anchor="end" fill="#111" stroke="#111" stroke-width="0.25">20</text><line x1="610.5" y1="134.42" x2="614.5" y2="134.42" stroke="#1e1e1e" stroke-width="1.1"/><text class="t" x="608.1" y="137.62" font-size="9.3" font-weight="bold" text-anchor="end" fill="#111" stroke="#111" stroke-width="0.25">25</text><line x1="610.5" y1="100.88" x2="614.5" y2="100.88" stroke="#1e1e1e" stroke-width="1.1"/><text class="t" x="608.1" y="104.08" font-size="9.3" font-weight="bold" text-anchor="end" fill="#111" stroke="#111" stroke-width="0.25">30</text><line x1="610.5" y1="67.34" x2="614.5" y2="67.34" stroke="#1e1e1e" stroke-width="1.1"/><text class="t" x="608.1" y="70.54" font-size="9.3" font-weight="bold" text-anchor="end" fill="#111" stroke="#111" stroke-width="0.25">35</text><line x1="610.5" y1="33.8" x2="614.5" y2="33.8" stroke="#1e1e1e" stroke-width="1.1"/><text class="t" x="608.1" y="37" font-size="9.3" font-weight="bold" text-anchor="end" fill="#111" stroke="#111" stroke-width="0.25">40</text><line x1="612.3" y1="184.73" x2="614.5" y2="184.73" stroke="#1e1e1e" stroke-width="1.1"/><line x1="612.3" y1="151.19" x2="614.5" y2="151.19" stroke="#1e1e1e" stroke-width="1.1"/><line x1="612.3" y1="117.65" x2="614.5" y2="117.65" stroke="#1e1e1e" stroke-width="1.1"/><line x1="612.3" y1="84.11" x2="614.5" y2="84.11" stroke="#1e1e1e" stroke-width="1.1"/><line x1="612.3" y1="50.57" x2="614.5" y2="50.57" stroke="#1e1e1e" stroke-width="1.1"/><text class="t" transform="translate(649.4,37.65) scale(1,1.08)" font-size="10.4" font-weight="bold" font-style="italic" text-anchor="middle" fill="#1b2e4b" stroke="#1b2e4b" stroke-width="0.2">Optimal:36</text><text class="t" transform="translate(653,205.9) rotate(-90)" font-size="9.75" font-weight="bold" text-anchor="end" fill="#111" stroke="#111" stroke-width="0.2">min_samples_leaf</text></g>
<g><path d="M229.1,488.32 C228.62,486.17 227.95,481.66 226.2,475.43 C224.45,469.2 220.18,456.49 218.6,450.95 C217.02,445.41 217.27,445.41 216.7,442.19 C216.13,438.97 215.65,434.67 215.2,431.62 C214.75,428.57 214.32,426.96 214,423.89 C213.68,420.82 213.27,416.03 213.3,413.2 C213.33,410.36 213.68,409.68 214.2,406.88 C214.72,404.09 215.5,399.91 216.4,396.45 C217.3,392.99 218.55,389.58 219.6,386.14 C220.65,382.7 221.53,379.29 222.7,375.83 C223.87,372.38 225.6,368.08 226.6,365.4 C227.6,362.71 227.88,362.86 228.7,359.73 C229.52,356.59 231.03,348.78 231.5,346.58 L240.1,346.58 C240.57,348.78 242.08,356.59 242.9,359.73 C243.72,362.86 244,362.71 245,365.4 C246,368.08 247.73,372.38 248.9,375.83 C250.07,379.29 250.95,382.7 252,386.14 C253.05,389.58 254.3,392.99 255.2,396.45 C256.1,399.91 256.88,404.09 257.4,406.88 C257.92,409.68 258.27,410.36 258.3,413.2 C258.33,416.03 257.92,420.82 257.6,423.89 C257.28,426.96 256.85,428.57 256.4,431.62 C255.95,434.67 255.47,438.97 254.9,442.19 C254.33,445.41 254.58,445.41 253,450.95 C251.42,456.49 247.15,469.2 245.4,475.43 C243.65,481.66 242.98,486.17 242.5,488.32 Z" fill="#e0e0e0" stroke="none"/><rect x="213.3" y="359.47" width="45" height="92" fill="url(#g_teal)"/><path d="M213.3,359.47 L213.3,451.47 M258.3,359.47 L258.3,451.47" stroke="#4a4a4a" stroke-width="1" fill="none"/><path d="M212.8,359.47 L258.8,359.47 M212.8,451.47 L258.8,451.47" stroke="#1c3332" stroke-width="1.05" fill="none"/><line x1="235.8" y1="451.47" x2="235.8" y2="475.43" stroke="#2a2a2a" stroke-width="1.1"/><line x1="224.4" y1="475.43" x2="247.2" y2="475.43" stroke="#2a2a2a" stroke-width="1.1"/><path d="M229.1,488.32 C228.62,486.17 227.95,481.66 226.2,475.43 C224.45,469.2 220.18,456.49 218.6,450.95 C217.02,445.41 217.27,445.41 216.7,442.19 C216.13,438.97 215.65,434.67 215.2,431.62 C214.75,428.57 214.32,426.96 214,423.89 C213.68,420.82 213.27,416.03 213.3,413.2 C213.33,410.36 213.68,409.68 214.2,406.88 C214.72,404.09 215.5,399.91 216.4,396.45 C217.3,392.99 218.55,389.58 219.6,386.14 C220.65,382.7 221.53,379.29 222.7,375.83 C223.87,372.38 225.6,368.08 226.6,365.4 C227.6,362.71 227.88,362.86 228.7,359.73 C229.52,356.59 231.03,348.78 231.5,346.58 L240.1,346.58 C240.57,348.78 242.08,356.59 242.9,359.73 C243.72,362.86 244,362.71 245,365.4 C246,368.08 247.73,372.38 248.9,375.83 C250.07,379.29 250.95,382.7 252,386.14 C253.05,389.58 254.3,392.99 255.2,396.45 C256.1,399.91 256.88,404.09 257.4,406.88 C257.92,409.68 258.27,410.36 258.3,413.2 C258.33,416.03 257.92,420.82 257.6,423.89 C257.28,426.96 256.85,428.57 256.4,431.62 C255.95,434.67 255.47,438.97 254.9,442.19 C254.33,445.41 254.58,445.41 253,450.95 C251.42,456.49 247.15,469.2 245.4,475.43 C243.65,481.66 242.98,486.17 242.5,488.32 Z" fill="none" stroke="#bdbdbd" stroke-width="1"/><line x1="213.3" y1="431.62" x2="258.3" y2="431.62" stroke="#1c3332" stroke-width="1.3"/><rect x="232.9" y="419.45" width="5.8" height="5.8" rx="0.4" fill="none" stroke="#1e2424" stroke-width="1"/><path d="M200.9,333.7 L200.9,501.2 L271.1,501.2" fill="none" stroke="#1e1e1e" stroke-width="1.2"/><line x1="235.8" y1="501.2" x2="235.8" y2="504.7" stroke="#1e1e1e" stroke-width="1.1"/><line x1="196.9" y1="501.2" x2="200.9" y2="501.2" stroke="#1e1e1e" stroke-width="1.1"/><text class="t" x="194.5" y="504.4" font-size="9.3" font-weight="bold" text-anchor="end" fill="#111" stroke="#111" stroke-width="0.25">80</text><line x1="196.9" y1="475.43" x2="200.9" y2="475.43" stroke="#1e1e1e" stroke-width="1.1"/><text class="t" x="194.5" y="478.63" font-size="9.3" font-weight="bold" text-anchor="end" fill="#111" stroke="#111" stroke-width="0.25">100</text><line x1="196.9" y1="449.66" x2="200.9" y2="449.66" stroke="#1e1e1e" stroke-width="1.1"/><text class="t" x="194.5" y="452.86" font-size="9.3" font-weight="bold" text-anchor="end" fill="#111" stroke="#111" stroke-width="0.25">120</text><line x1="196.9" y1="423.89" x2="200.9" y2="423.89" stroke="#1e1e1e" stroke-width="1.1"/><text class="t" x="194.5" y="427.09" font-size="9.3" font-weight="bold" text-anchor="end" fill="#111" stroke="#111" stroke-width="0.25">140</text><line x1="196.9" y1="398.12" x2="200.9" y2="398.12" stroke="#1e1e1e" stroke-width="1.1"/><text class="t" x="194.5" y="401.32" font-size="9.3" font-weight="bold" text-anchor="end" fill="#111" stroke="#111" stroke-width="0.25">160</text><line x1="196.9" y1="372.35" x2="200.9" y2="372.35" stroke="#1e1e1e" stroke-width="1.1"/><text class="t" x="194.5" y="375.55" font-size="9.3" font-weight="bold" text-anchor="end" fill="#111" stroke="#111" stroke-width="0.25">180</text><line x1="196.9" y1="346.58" x2="200.9" y2="346.58" stroke="#1e1e1e" stroke-width="1.1"/><text class="t" x="194.5" y="349.78" font-size="9.3" font-weight="bold" text-anchor="end" fill="#111" stroke="#111" stroke-width="0.25">200</text><line x1="198.7" y1="488.32" x2="200.9" y2="488.32" stroke="#1e1e1e" stroke-width="1.1"/><line x1="198.7" y1="462.55" x2="200.9" y2="462.55" stroke="#1e1e1e" stroke-width="1.1"/><line x1="198.7" y1="436.78" x2="200.9" y2="436.78" stroke="#1e1e1e" stroke-width="1.1"/><line x1="198.7" y1="411.01" x2="200.9" y2="411.01" stroke="#1e1e1e" stroke-width="1.1"/><line x1="198.7" y1="385.24" x2="200.9" y2="385.24" stroke="#1e1e1e" stroke-width="1.1"/><line x1="198.7" y1="359.47" x2="200.9" y2="359.47" stroke="#1e1e1e" stroke-width="1.1"/><line x1="198.7" y1="333.7" x2="200.9" y2="333.7" stroke="#1e1e1e" stroke-width="1.1"/><text class="t" transform="translate(235.8,337.55) scale(1,1.08)" font-size="10.4" font-weight="bold" font-style="italic" text-anchor="middle" fill="#1b2e4b" stroke="#1b2e4b" stroke-width="0.2">Optimal:190</text><text class="t" transform="translate(238,506.8) rotate(-90)" font-size="9.75" font-weight="bold" text-anchor="end" fill="#111" stroke="#111" stroke-width="0.2">max_iter</text></g>
<g><path d="M349.9,473.12 C349.53,471.26 349.02,466.18 347.7,461.96 C346.38,457.74 344.15,453.38 342,447.8 C339.85,442.22 336.55,433.21 334.8,428.5 C333.05,423.8 332.3,422.37 331.5,419.58 C330.7,416.79 330.32,414.21 330,411.77 C329.68,409.34 329.48,407.33 329.6,404.97 C329.72,402.61 330.05,400.55 330.7,397.61 C331.35,394.67 332.38,390.81 333.5,387.35 C334.62,383.89 335.97,380.34 337.4,376.86 C338.83,373.39 340.92,369.09 342.1,366.49 C343.28,363.89 343.52,363.93 344.5,361.25 C345.48,358.57 347.42,352.23 348,350.43 L358.4,350.43 C358.98,352.23 360.92,358.57 361.9,361.25 C362.88,363.93 363.12,363.89 364.3,366.49 C365.48,369.09 367.57,373.39 369,376.86 C370.43,380.34 371.78,383.89 372.9,387.35 C374.02,390.81 375.05,394.67 375.7,397.61 C376.35,400.55 376.68,402.61 376.8,404.97 C376.92,407.33 376.72,409.34 376.4,411.77 C376.08,414.21 375.7,416.79 374.9,419.58 C374.1,422.37 373.35,423.8 371.6,428.5 C369.85,433.21 366.55,442.22 364.4,447.8 C362.25,453.38 360.02,457.74 358.7,461.96 C357.38,466.18 356.87,471.26 356.5,473.12 Z" fill="#e0e0e0" stroke="none"/><rect x="329.6" y="361.58" width="47.2" height="66.92" fill="url(#g_brown)"/><path d="M329.6,361.58 L329.6,428.5 M376.8,361.58 L376.8,428.5" stroke="#4a4a4a" stroke-width="1" fill="none"/><path d="M329.1,361.58 L377.3,361.58 M329.1,428.5 L377.3,428.5" stroke="#4a3424" stroke-width="1.05" fill="none"/><line x1="353.2" y1="428.5" x2="353.2" y2="461.96" stroke="#2a2a2a" stroke-width="1.1"/><line x1="341.5" y1="461.96" x2="364.9" y2="461.96" stroke="#2a2a2a" stroke-width="1.1"/><path d="M349.9,473.12 C349.53,471.26 349.02,466.18 347.7,461.96 C346.38,457.74 344.15,453.38 342,447.8 C339.85,442.22 336.55,433.21 334.8,428.5 C333.05,423.8 332.3,422.37 331.5,419.58 C330.7,416.79 330.32,414.21 330,411.77 C329.68,409.34 329.48,407.33 329.6,404.97 C329.72,402.61 330.05,400.55 330.7,397.61 C331.35,394.67 332.38,390.81 333.5,387.35 C334.62,383.89 335.97,380.34 337.4,376.86 C338.83,373.39 340.92,369.09 342.1,366.49 C343.28,363.89 343.52,363.93 344.5,361.25 C345.48,358.57 347.42,352.23 348,350.43 L358.4,350.43 C358.98,352.23 360.92,358.57 361.9,361.25 C362.88,363.93 363.12,363.89 364.3,366.49 C365.48,369.09 367.57,373.39 369,376.86 C370.43,380.34 371.78,383.89 372.9,387.35 C374.02,390.81 375.05,394.67 375.7,397.61 C376.35,400.55 376.68,402.61 376.8,404.97 C376.92,407.33 376.72,409.34 376.4,411.77 C376.08,414.21 375.7,416.79 374.9,419.58 C374.1,422.37 373.35,423.8 371.6,428.5 C369.85,433.21 366.55,442.22 364.4,447.8 C362.25,453.38 360.02,457.74 358.7,461.96 C357.38,466.18 356.87,471.26 356.5,473.12 Z" fill="none" stroke="#bdbdbd" stroke-width="1"/><line x1="329.6" y1="411.77" x2="376.8" y2="411.77" stroke="#4a3424" stroke-width="1.3"/><rect x="350.3" y="403.74" width="5.8" height="5.8" rx="0.4" fill="none" stroke="#1e2424" stroke-width="1"/><path d="M316.5,333.7 L316.5,501 L390,501" fill="none" stroke="#1e1e1e" stroke-width="1.2"/><line x1="353.2" y1="501" x2="353.2" y2="504.5" stroke="#1e1e1e" stroke-width="1.1"/><line x1="312.5" y1="473.12" x2="316.5" y2="473.12" stroke="#1e1e1e" stroke-width="1.1"/><text class="t" x="310.1" y="476.32" font-size="9.3" font-weight="bold" text-anchor="end" fill="#111" stroke="#111" stroke-width="0.25">0.00</text><line x1="312.5" y1="417.35" x2="316.5" y2="417.35" stroke="#1e1e1e" stroke-width="1.1"/><text class="t" x="310.1" y="420.55" font-size="9.3" font-weight="bold" text-anchor="end" fill="#111" stroke="#111" stroke-width="0.25">0.05</text><line x1="312.5" y1="361.58" x2="316.5" y2="361.58" stroke="#1e1e1e" stroke-width="1.1"/><text class="t" x="310.1" y="364.78" font-size="9.3" font-weight="bold" text-anchor="end" fill="#111" stroke="#111" stroke-width="0.25">0.10</text><line x1="314.3" y1="501" x2="316.5" y2="501" stroke="#1e1e1e" stroke-width="1.1"/><line x1="314.3" y1="445.23" x2="316.5" y2="445.23" stroke="#1e1e1e" stroke-width="1.1"/><line x1="314.3" y1="389.47" x2="316.5" y2="389.47" stroke="#1e1e1e" stroke-width="1.1"/><line x1="314.3" y1="333.7" x2="316.5" y2="333.7" stroke="#1e1e1e" stroke-width="1.1"/><text class="t" transform="translate(353.2,337.55) scale(1,1.08)" font-size="10.4" font-weight="bold" font-style="italic" text-anchor="middle" fill="#1b2e4b" stroke="#1b2e4b" stroke-width="0.2">Optimal:0.1</text><text class="t" transform="translate(356.6,506.6) rotate(-90)" font-size="9.75" font-weight="bold" text-anchor="end" fill="#111" stroke="#111" stroke-width="0.2">learning_rate</text></g>
<g><path d="M462.1,485.97 C461.42,483.43 459.43,475.57 458,470.75 C456.57,465.92 454.95,461.61 453.5,457.04 C452.05,452.47 450.58,447.65 449.3,443.34 C448.02,439.02 446.57,434.91 445.8,431.15 C445.03,427.4 444.85,424 444.7,420.8 C444.55,417.6 444.57,415.17 444.9,411.97 C445.23,408.77 445.88,405.07 446.7,401.61 C447.52,398.16 448.65,394.71 449.8,391.26 C450.95,387.81 452.3,384.38 453.6,380.9 C454.9,377.43 456.55,373.19 457.6,370.4 C458.65,367.61 458.83,367.73 459.9,364.15 C460.97,360.58 463.32,351.47 464,348.93 L470.6,348.93 C471.28,351.47 473.63,360.58 474.7,364.15 C475.77,367.73 475.95,367.61 477,370.4 C478.05,373.19 479.7,377.43 481,380.9 C482.3,384.38 483.65,387.81 484.8,391.26 C485.95,394.71 487.08,398.16 487.9,401.61 C488.72,405.07 489.37,408.77 489.7,411.97 C490.03,415.17 490.05,417.6 489.9,420.8 C489.75,424 489.57,427.4 488.8,431.15 C488.03,434.91 486.58,439.02 485.3,443.34 C484.02,447.65 482.55,452.47 481.1,457.04 C479.65,461.61 478.03,465.92 476.6,470.75 C475.17,475.57 473.18,483.43 472.5,485.97 Z" fill="#e0e0e0" stroke="none"/><rect x="444.9" y="364.15" width="44.8" height="79.18" fill="url(#g_olive)"/><path d="M444.9,364.15 L444.9,443.34 M489.7,364.15 L489.7,443.34" stroke="#4a4a4a" stroke-width="1" fill="none"/><path d="M444.4,364.15 L490.2,364.15 M444.4,443.34 L490.2,443.34" stroke="#3e3b22" stroke-width="1.05" fill="none"/><line x1="467.3" y1="443.34" x2="467.3" y2="470.75" stroke="#2a2a2a" stroke-width="1.1"/><line x1="456" y1="470.75" x2="478.6" y2="470.75" stroke="#2a2a2a" stroke-width="1.1"/><path d="M462.1,485.97 C461.42,483.43 459.43,475.57 458,470.75 C456.57,465.92 454.95,461.61 453.5,457.04 C452.05,452.47 450.58,447.65 449.3,443.34 C448.02,439.02 446.57,434.91 445.8,431.15 C445.03,427.4 444.85,424 444.7,420.8 C444.55,417.6 444.57,415.17 444.9,411.97 C445.23,408.77 445.88,405.07 446.7,401.61 C447.52,398.16 448.65,394.71 449.8,391.26 C450.95,387.81 452.3,384.38 453.6,380.9 C454.9,377.43 456.55,373.19 457.6,370.4 C458.65,367.61 458.83,367.73 459.9,364.15 C460.97,360.58 463.32,351.47 464,348.93 L470.6,348.93 C471.28,351.47 473.63,360.58 474.7,364.15 C475.77,367.73 475.95,367.61 477,370.4 C478.05,373.19 479.7,377.43 481,380.9 C482.3,384.38 483.65,387.81 484.8,391.26 C485.95,394.71 487.08,398.16 487.9,401.61 C488.72,405.07 489.37,408.77 489.7,411.97 C490.03,415.17 490.05,417.6 489.9,420.8 C489.75,424 489.57,427.4 488.8,431.15 C488.03,434.91 486.58,439.02 485.3,443.34 C484.02,447.65 482.55,452.47 481.1,457.04 C479.65,461.61 478.03,465.92 476.6,470.75 C475.17,475.57 473.18,483.43 472.5,485.97 Z" fill="none" stroke="#bdbdbd" stroke-width="1"/><line x1="444.9" y1="431.15" x2="489.7" y2="431.15" stroke="#3e3b22" stroke-width="1.3"/><rect x="464.4" y="417.6" width="5.8" height="5.8" rx="0.4" fill="none" stroke="#1e2424" stroke-width="1"/><path d="M432.5,333.7 L432.5,501.2 L502,501.2" fill="none" stroke="#1e1e1e" stroke-width="1.2"/><line x1="467.3" y1="501.2" x2="467.3" y2="504.7" stroke="#1e1e1e" stroke-width="1.1"/><line x1="428.5" y1="501.2" x2="432.5" y2="501.2" stroke="#1e1e1e" stroke-width="1.1"/><text class="t" x="426.1" y="504.4" font-size="9.3" font-weight="bold" text-anchor="end" fill="#111" stroke="#111" stroke-width="0.25">10</text><line x1="428.5" y1="470.75" x2="432.5" y2="470.75" stroke="#1e1e1e" stroke-width="1.1"/><text class="t" x="426.1" y="473.95" font-size="9.3" font-weight="bold" text-anchor="end" fill="#111" stroke="#111" stroke-width="0.25">20</text><line x1="428.5" y1="440.29" x2="432.5" y2="440.29" stroke="#1e1e1e" stroke-width="1.1"/><text class="t" x="426.1" y="443.49" font-size="9.3" font-weight="bold" text-anchor="end" fill="#111" stroke="#111" stroke-width="0.25">30</text><line x1="428.5" y1="409.84" x2="432.5" y2="409.84" stroke="#1e1e1e" stroke-width="1.1"/><text class="t" x="426.1" y="413.04" font-size="9.3" font-weight="bold" text-anchor="end" fill="#111" stroke="#111" stroke-width="0.25">40</text><line x1="428.5" y1="379.38" x2="432.5" y2="379.38" stroke="#1e1e1e" stroke-width="1.1"/><text class="t" x="426.1" y="382.58" font-size="9.3" font-weight="bold" text-anchor="end" fill="#111" stroke="#111" stroke-width="0.25">50</text><line x1="428.5" y1="348.93" x2="432.5" y2="348.93" stroke="#1e1e1e" stroke-width="1.1"/><text class="t" x="426.1" y="352.13" font-size="9.3" font-weight="bold" text-anchor="end" fill="#111" stroke="#111" stroke-width="0.25">60</text><line x1="430.3" y1="485.97" x2="432.5" y2="485.97" stroke="#1e1e1e" stroke-width="1.1"/><line x1="430.3" y1="455.52" x2="432.5" y2="455.52" stroke="#1e1e1e" stroke-width="1.1"/><line x1="430.3" y1="425.06" x2="432.5" y2="425.06" stroke="#1e1e1e" stroke-width="1.1"/><line x1="430.3" y1="394.61" x2="432.5" y2="394.61" stroke="#1e1e1e" stroke-width="1.1"/><line x1="430.3" y1="364.15" x2="432.5" y2="364.15" stroke="#1e1e1e" stroke-width="1.1"/><line x1="430.3" y1="333.7" x2="432.5" y2="333.7" stroke="#1e1e1e" stroke-width="1.1"/><text class="t" transform="translate(467.3,337.55) scale(1,1.08)" font-size="10.4" font-weight="bold" font-style="italic" text-anchor="middle" fill="#1b2e4b" stroke="#1b2e4b" stroke-width="0.2">Optimal:55</text><text class="t" transform="translate(470.9,505.6) rotate(-90)" font-size="9.75" font-weight="bold" text-anchor="end" fill="#111" stroke="#111" stroke-width="0.2">min_samples_leaf</text></g>
</svg></body></html>
